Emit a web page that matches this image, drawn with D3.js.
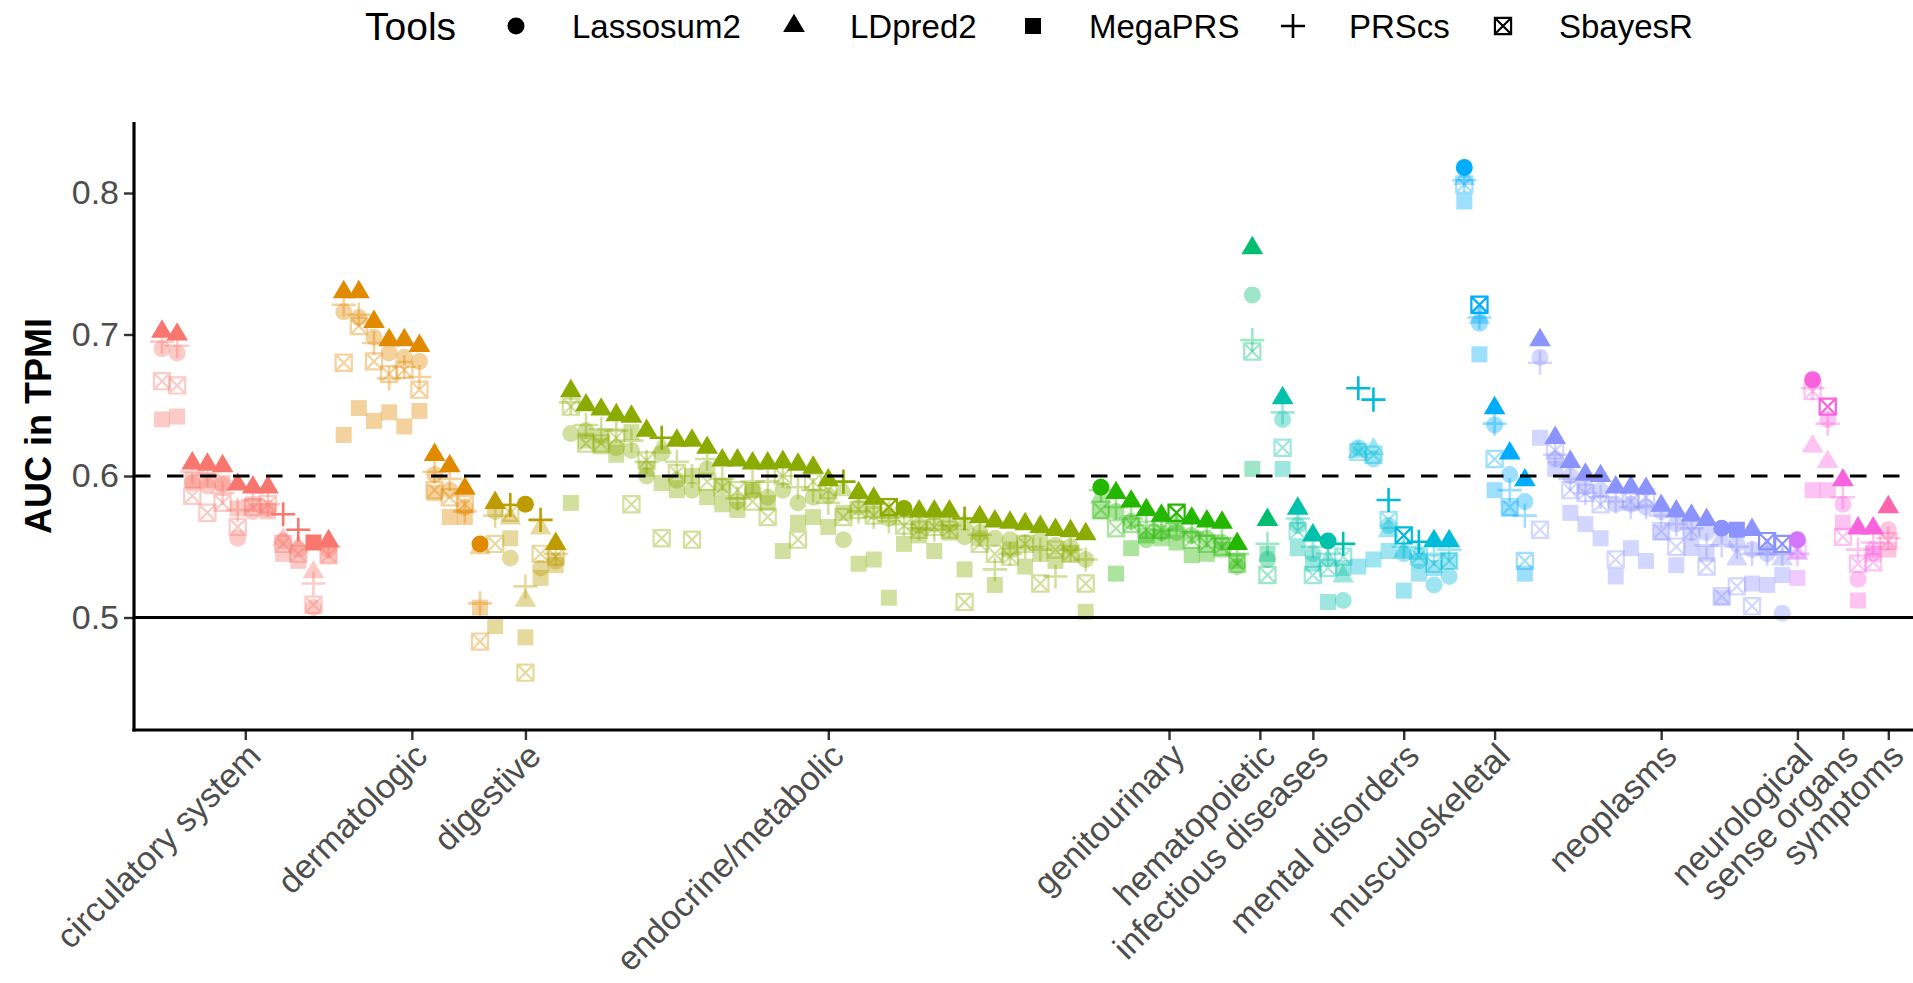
<!DOCTYPE html>
<html>
<head>
<meta charset="utf-8">
<script src="https://cdn.jsdelivr.net/npm/d3@7"></script>
<style>
  body { margin: 0; background: #ffffff; }
  svg { display: block; font-family: "Liberation Sans", Arial, Helvetica, sans-serif; }
</style>
</head>
<body>
<svg id="chart" width="1913" height="983"></svg>
<script>
// Phenotype categories, in plotting order, and how many phenotypes each holds
const categories = ["circulatory system", "dermatologic", "digestive", "endocrine/metabolic",
  "genitourinary", "hematopoietic", "infectious diseases", "mental disorders",
  "musculoskeletal", "neoplasms", "neurological", "sense organs", "symptoms"];
const categorySizes = [12, 10, 5, 35, 10, 2, 5, 7, 5, 17, 1, 5, 1];
const categoryColors = ["#F8766D", "#E18A00", "#BE9C00", "#8CAB00", "#24B700", "#00BE70",
  "#00C1AB", "#00BBDA", "#00ACFC", "#8B93FF", "#D575FE", "#F962DD", "#FF65AC"];

const tools = ["Lassosum2", "LDpred2", "MegaPRS", "PRScs", "SbayesR"];

// AUC per phenotype (same order for every tool)
const lassosum2 = [
  0.690, 0.687, 0.595, 0.593, 0.594, 0.556, 0.575, 0.577, 0.554, 0.548, 0.507, 0.548,
  0.716, 0.712, 0.698, 0.687, 0.684, 0.681, 0.601, 0.590, 0.578, 0.552,
  0.575, 0.542, 0.580, 0.535, 0.540,
  0.630, 0.632, 0.628, 0.620, 0.618, 0.600, 0.616, 0.597, 0.590, 0.605, 0.593, 0.582, 0.590,
  0.585, 0.590, 0.581, 0.585, 0.586, 0.555, 0.578, 0.575, 0.570, 0.577, 0.565, 0.566, 0.566,
  0.557, 0.560, 0.556, 0.555, 0.553, 0.555, 0.551, 0.550, 0.541,
  0.592, 0.575, 0.568, 0.555, 0.560, 0.560, 0.558, 0.556, 0.553, 0.536,
  0.728, 0.541,
  0.640, 0.565, 0.545, 0.554, 0.512,
  0.620, 0.612, 0.565, 0.545, 0.540, 0.523, 0.529,
  0.818, 0.708, 0.636, 0.601, 0.582,
  0.684, 0.612, 0.600, 0.592, 0.590, 0.580, 0.580, 0.578, 0.575, 0.566, 0.560, 0.560, 0.563,
  0.552, 0.548, 0.545, 0.503,
  0.555,
  0.668, 0.640, 0.580, 0.527, 0.548,
  0.562];
const ldpred2 = [
  0.702, 0.700, 0.609, 0.608, 0.607, 0.594, 0.592, 0.592, 0.555, 0.550, 0.532, 0.554,
  0.730, 0.730, 0.709, 0.696, 0.696, 0.692, 0.615, 0.607, 0.591, 0.549,
  0.581, 0.570, 0.512, 0.563, 0.552,
  0.660, 0.650, 0.647, 0.643, 0.642, 0.632, 0.620, 0.625, 0.625, 0.620, 0.611, 0.611, 0.609,
  0.609, 0.610, 0.608, 0.606, 0.597, 0.590, 0.588, 0.584, 0.574, 0.575, 0.575, 0.575, 0.575,
  0.566, 0.571, 0.568, 0.567, 0.566, 0.564, 0.562, 0.561, 0.559,
  0.585, 0.588, 0.582, 0.576, 0.572, 0.565, 0.570, 0.568, 0.567, 0.552,
  0.761, 0.569,
  0.655, 0.577, 0.558, 0.540, 0.529,
  0.617, 0.619, 0.561, 0.546, 0.545, 0.554, 0.554,
  0.810, 0.712, 0.648, 0.616, 0.597,
  0.696, 0.627, 0.610, 0.601, 0.600, 0.592, 0.592, 0.591, 0.579, 0.575, 0.572, 0.569, 0.556,
  0.541, 0.562, 0.548, 0.541,
  0.545,
  0.621, 0.610, 0.597, 0.563, 0.563,
  0.578];
const megaPRS = [
  0.640, 0.642, 0.597, 0.597, 0.595, 0.577, 0.580, 0.575, 0.545, 0.540, 0.553, 0.544,
  0.629, 0.648, 0.639, 0.645, 0.635, 0.646, 0.588, 0.571, 0.571, 0.507,
  0.494, 0.556, 0.486, 0.528, 0.537,
  0.581, 0.625, 0.621, 0.615, 0.631, 0.605, 0.595, 0.590, 0.600, 0.585, 0.580, 0.576, 0.590,
  0.581, 0.547, 0.567, 0.571, 0.564, 0.574, 0.538, 0.541, 0.514, 0.552, 0.558, 0.547, 0.560,
  0.534, 0.556, 0.523, 0.548, 0.536, 0.545, 0.540, 0.545, 0.504,
  0.575, 0.531, 0.549, 0.558, 0.556, 0.553, 0.544, 0.545, 0.548, 0.540,
  0.605, 0.545,
  0.605, 0.549, 0.538, 0.511, 0.535,
  0.536, 0.541, 0.547, 0.519, 0.531, 0.535, 0.540,
  0.794, 0.686, 0.590, 0.577, 0.531,
  0.627, 0.605, 0.574, 0.566, 0.556, 0.529, 0.549, 0.540, 0.560, 0.537, 0.549, 0.545, 0.514,
  0.562, 0.524, 0.523, 0.530,
  0.528,
  0.590, 0.590, 0.567, 0.512, 0.545,
  0.548];
const prsCS = [
  0.695, 0.692, 0.603, 0.601, 0.588, 0.576, 0.583, 0.580, 0.573, 0.562, 0.524, 0.550,
  0.721, 0.714, 0.694, 0.669, 0.677, 0.670, 0.603, 0.598, 0.575, 0.510,
  0.572, 0.5795, 0.522, 0.569, 0.545,
  0.652, 0.636, 0.633, 0.632, 0.625, 0.610, 0.627, 0.610, 0.600, 0.612, 0.598, 0.584, 0.596,
  0.596, 0.600, 0.592, 0.590, 0.581, 0.596, 0.575, 0.571, 0.568, 0.566, 0.563, 0.562, 0.565,
  0.570, 0.5585, 0.534, 0.545, 0.550, 0.548, 0.529, 0.548, 0.541,
  0.590, 0.578, 0.570, 0.565, 0.562, 0.567, 0.560, 0.558, 0.556, 0.545,
  0.696, 0.552,
  0.645, 0.570, 0.550, 0.545, 0.552,
  0.662, 0.654, 0.583, 0.550, 0.5535, 0.545, 0.548,
  0.809, 0.712, 0.637, 0.590, 0.572,
  0.680, 0.615, 0.598, 0.588, 0.585, 0.582, 0.578, 0.578, 0.572, 0.566, 0.563, 0.551, 0.551,
  0.550, 0.545, 0.545, 0.545,
  0.545,
  0.662, 0.637, 0.585, 0.548, 0.553,
  0.556];
const sbayesR = [
  0.667, 0.664, 0.586, 0.574, 0.581, 0.564, 0.578, 0.580, 0.552, 0.545, 0.509, 0.544,
  0.680, 0.706, 0.681, 0.672, 0.675, 0.661, 0.590, 0.585, 0.580, 0.483,
  0.552, 0.574, 0.461, 0.545, 0.543,
  0.649, 0.623, 0.623, 0.627, 0.580, 0.611, 0.556, 0.602, 0.555, 0.596, 0.592, 0.590, 0.582,
  0.571, 0.600, 0.555, 0.596, 0.590, 0.571, 0.576, 0.572, 0.578, 0.565, 0.562, 0.564, 0.562,
  0.511, 0.552, 0.545, 0.543, 0.552, 0.524, 0.548, 0.545, 0.524,
  0.576, 0.563, 0.566, 0.562, 0.562, 0.574, 0.555, 0.552, 0.550, 0.538,
  0.688, 0.530,
  0.620, 0.561, 0.530, 0.535, 0.543,
  0.617, 0.615, 0.569, 0.558, 0.543, 0.538, 0.540,
  0.806, 0.721, 0.612, 0.578, 0.540,
  0.562, 0.618, 0.590, 0.588, 0.580, 0.541, 0.582, 0.585, 0.561, 0.550, 0.561, 0.536, 0.515,
  0.522, 0.508, 0.554, 0.552,
  0.548,
  0.660, 0.649, 0.557, 0.538, 0.539,
  0.554];

const toolValues = [lassosum2, ldpred2, megaPRS, prsCS, sbayesR];
const yTicks = [0.5, 0.6, 0.7, 0.8];
const chanceLevel = 0.5;
const referenceAUC = 0.6;

// ---- layout ----
const W = 1913, H = 983;
const panel = { left: 134, right: 1913, top: 122, bottom: 730 };
const svg = d3.select("#chart");

// category of each phenotype
const phenoCategory = [];
categorySizes.forEach((n, c) => { for (let k = 0; k < n; k++) phenoCategory.push(c); });
const nPheno = phenoCategory.length;

const x = d3.scaleLinear().domain([0, nPheno - 1]).range([162, 1888.3]);
const y = d3.scaleLinear().domain([0.5, 0.8]).range([617.5, 193]);

// ---- marker shapes (R-style point glyphs) ----
const R = 8.5;
const shapeCircle = { draw(ctx) { ctx.moveTo(R, 0); ctx.arc(0, 0, R, 0, 2 * Math.PI); } };
const shapeTriangle = { draw(ctx) {
  ctx.moveTo(0, -R * 1.45); ctx.lineTo(R * 1.28, R * 0.72); ctx.lineTo(-R * 1.28, R * 0.72); ctx.closePath(); } };
const shapeSquare = { draw(ctx) { const h = R * 0.94; ctx.rect(-h, -h, 2 * h, 2 * h); } };
const shapePlus = { draw(ctx) { const h = R * 1.42;
  ctx.moveTo(-h, 0); ctx.lineTo(h, 0); ctx.moveTo(0, -h); ctx.lineTo(0, h); } };
const shapeBoxX = { draw(ctx) { const h = R * 0.95;
  ctx.rect(-h, -h, 2 * h, 2 * h);
  ctx.moveTo(-h, -h); ctx.lineTo(h, h); ctx.moveTo(h, -h); ctx.lineTo(-h, h); } };
const toolShapes = [shapeCircle, shapeTriangle, shapeSquare, shapePlus, shapeBoxX];
const toolFilled = [true, true, true, false, false];

// ---- points ----
const points = [];
for (let i = 0; i < nPheno; i++) {
  const vals = toolValues.map(a => a[i]);
  const best = d3.max(vals);
  vals.forEach((v, t) => points.push({ i, t, v, best: v === best, cat: phenoCategory[i] }));
}
const ordered = points.filter(p => !p.best).concat(points.filter(p => p.best));

svg.append("g").selectAll("path")
  .data(ordered)
  .join("path")
  .attr("transform", d => `translate(${x(d.i)},${y(d.v)})`)
  .attr("d", d => d3.symbol(toolShapes[d.t])())
  .attr("fill", d => toolFilled[d.t] ? categoryColors[d.cat] : "none")
  .attr("stroke", d => toolFilled[d.t] ? "none" : categoryColors[d.cat])
  .attr("stroke-width", d => d.t === 3 ? 2.6 : 2.2)
  .attr("opacity", d => d.best ? 1 : 0.38);

// ---- reference lines ----
svg.append("line")
  .attr("x1", panel.left).attr("x2", panel.right)
  .attr("y1", y(chanceLevel)).attr("y2", y(chanceLevel))
  .attr("stroke", "#000").attr("stroke-width", 3.2);
svg.append("line")
  .attr("x1", panel.left).attr("x2", panel.right)
  .attr("y1", y(referenceAUC)).attr("y2", y(referenceAUC))
  .attr("stroke", "#000").attr("stroke-width", 3.2)
  .attr("stroke-dasharray", "16.5,16.5");

// ---- y axis ----
const yAxis = d3.axisLeft(y).tickValues(yTicks).tickFormat(d3.format(".1f"))
  .tickSize(10).tickPadding(5).tickSizeOuter(0);
const gy = svg.append("g").attr("transform", `translate(${panel.left},0)`).call(yAxis);
gy.select(".domain").remove();
gy.selectAll(".tick line").attr("stroke", "#333333").attr("stroke-width", 2.4);
gy.selectAll(".tick text").attr("fill", "#4D4D4D").attr("font-size", 34)
  .attr("font-family", "Liberation Sans, Arial, sans-serif");
svg.append("line").attr("x1", panel.left).attr("x2", panel.left)
  .attr("y1", panel.top).attr("y2", panel.bottom + 1.6)
  .attr("stroke", "#000").attr("stroke-width", 3.2);

svg.append("text")
  .attr("transform", `translate(38,${(panel.top + panel.bottom) / 2}) rotate(-90)`)
  .attr("text-anchor", "middle").attr("dy", "0.36em")
  .attr("font-size", 36).attr("font-weight", "bold").attr("fill", "#000")
  .text("AUC in TPMI");

// ---- x axis: one tick in the middle of each category ----
const catStart = d3.cumsum([0].concat(categorySizes.slice(0, -1)));
const catMid = categorySizes.map((n, c) => catStart[c] + (n - 1) / 2);
const xAxis = d3.axisBottom(x).tickValues(catMid).tickFormat((d, k) => categories[k])
  .tickSize(10).tickSizeOuter(0);
const gx = svg.append("g").attr("transform", `translate(0,${panel.bottom})`).call(xAxis);
gx.select(".domain").remove();
gx.selectAll(".tick line").attr("stroke", "#333333").attr("stroke-width", 2.4);
gx.selectAll(".tick text")
  .attr("fill", "#4D4D4D").attr("font-size", 34)
  .attr("font-family", "Liberation Sans, Arial, sans-serif")
  .attr("text-anchor", "end")
  .attr("y", 0).attr("dy", 0)
  .attr("transform", "translate(17,28) rotate(-45)");
svg.append("line").attr("x1", panel.left - 1.6).attr("x2", panel.right)
  .attr("y1", panel.bottom).attr("y2", panel.bottom)
  .attr("stroke", "#000").attr("stroke-width", 3.2);

// ---- legend ----
const legendY = 26;
const legendSymbolX = [516, 794, 1033, 1293, 1503];
const legend = svg.append("g");
legend.append("text").attr("x", 365).attr("y", legendY).attr("dy", "0.36em")
  .attr("font-size", 39).attr("fill", "#000").text("Tools");
tools.forEach((name, t) => {
  legend.append("path")
    .attr("transform", `translate(${legendSymbolX[t]},${legendY})`)
    .attr("d", d3.symbol(toolShapes[t])())
    .attr("fill", toolFilled[t] ? "#000" : "none")
    .attr("stroke", toolFilled[t] ? "none" : "#000")
    .attr("stroke-width", t === 3 ? 2.6 : 2.2);
  legend.append("text").attr("x", legendSymbolX[t] + 56).attr("y", legendY).attr("dy", "0.36em")
    .attr("font-size", 33).attr("fill", "#000").text(name);
});
</script>
</body>
</html>
